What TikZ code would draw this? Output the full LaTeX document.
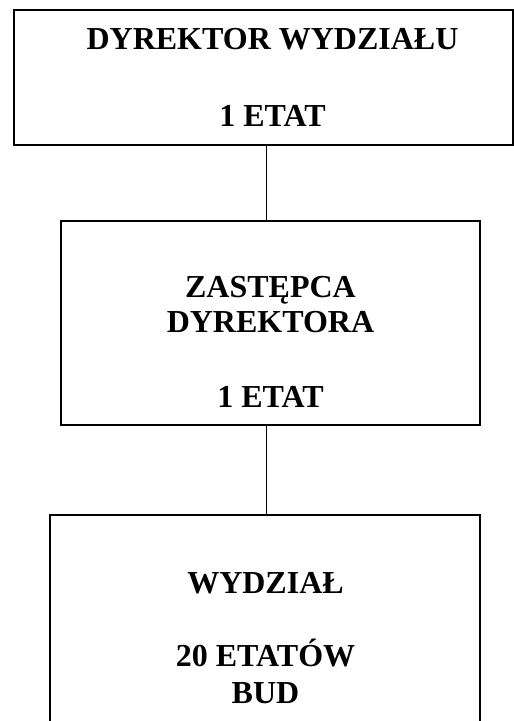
\documentclass[tikz,border=0pt]{standalone}
\usepackage{fontspec}
\setmainfont{Liberation Serif}
\usetikzlibrary{math}

\begin{document}
\begin{tikzpicture}[x=1pt, y=-1pt, line width=1.2pt,
    box/.style={draw, rectangle, inner sep=0pt},
    txt/.style={align=center, anchor=base, font=\bfseries\fontsize{32}{36}\selectfont}]
    \tikzmath{
        \linex=266.5;
    }

    \useasboundingbox (0, 0) rectangle (514, 721);
    \clip (0, 0) rectangle (514, 721);

    % boxes
    \node [box, minimum width=499pt, minimum height=135pt] (dyr) at (263.5, 77.5) {};
    \node [box, minimum width=419pt, minimum height=204pt] (zast) at (270.5, 323) {};
    \node [box, minimum width=430pt, minimum height=245pt] (wydz) at (265, 637.5) {};

    % texts (base = last line)
    \node [txt] (dyrtxt) at (272.5, 126) {DYREKTOR WYDZIAŁU\\[41pt]1 ETAT};
    \node [txt] (zasttxt) at (270.5, 407) {ZASTĘPCA\\[-1pt]DYREKTORA\\[39pt]1 ETAT};
    \node [txt] (wydztxt) at (265.5, 703) {WYDZIAŁ\\[37pt]20 ETATÓW\\[1pt]BUD};

    % lines
    \coordinate (axis) at (\linex, 0);
    \draw (dyr.south -| axis) -- (zast.north -| axis);
    \draw (zast.south -| axis) -- (wydz.north -| axis);
\end{tikzpicture}
\end{document}
